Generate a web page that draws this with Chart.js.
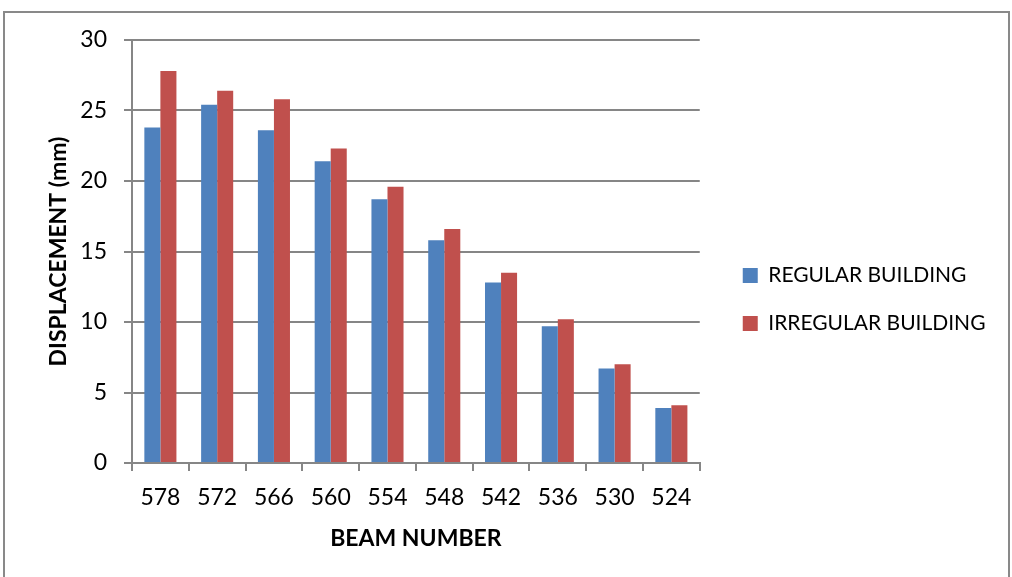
<!DOCTYPE html>
<html>
<head>
<meta charset="utf-8">
<script src="https://cdn.jsdelivr.net/npm/chart.js@4.4.0/dist/chart.umd.min.js"></script>
<style>
  body { margin: 0; background: #fff; }
  #frame {
    position: absolute; left: 3px; top: 11px; width: 1003px; height: 600px;
    border: 2px solid #898989;
  }
  #chart { position: absolute; left: 0; top: 0; }
</style>
</head>
<body>
<div id="frame"></div>
<canvas id="chart" width="1012" height="577"></canvas>
<script>
// beam numbers along the x axis
const beamNumbers = ['578', '572', '566', '560', '554', '548', '542', '536', '530', '524'];
// displacement in mm
const regularBuilding = [23.8, 25.4, 23.6, 21.4, 18.7, 15.8, 12.8, 9.7, 6.7, 3.9];
const irregularBuilding = [27.8, 26.4, 25.8, 22.3, 19.6, 16.6, 13.5, 10.2, 7.0, 4.1];
const yMin = 0, yMax = 30, yStep = 5;

const FONT = 'Lato, "Open Sans", sans-serif';
const GRID = '#868686';

// move legend to sit like the Excel one
const legendNudge = {
    id: 'legendNudge',
    afterLayout(chart) {
        const l = chart.legend;
        l.left = chart.chartArea.right + 16;
        l.right = chart.width;
        l.width = l.right - l.left;
        l.top -= 9;
        l.bottom -= 9;
    }
};

new Chart(document.getElementById('chart').getContext('2d'), {
    type: 'bar',
    data: {
        labels: beamNumbers,
        datasets: [
            {
                label: 'REGULAR BUILDING',
                data: regularBuilding,
                backgroundColor: '#4F81BD',
                categoryPercentage: 0.565,
                barPercentage: 1
            },
            {
                label: 'IRREGULAR BUILDING',
                data: irregularBuilding,
                backgroundColor: '#C0504D',
                categoryPercentage: 0.565,
                barPercentage: 1
            }
        ]
    },
    options: {
        responsive: false,
        animation: false,
        layout: { padding: { top: 40, right: 79, bottom: 0, left: 0 } },
        plugins: {
            tooltip: { enabled: false },
            legend: {
                position: 'right',
                labels: {
                    boxWidth: 15,
                    boxHeight: 15,
                    padding: 27,
                    color: '#000',
                    font: { family: FONT, size: 21 }
                }
            }
        },
        scales: {
            x: {
                grid: { drawOnChartArea: false, color: GRID, lineWidth: 2, tickLength: 8 },
                border: { color: GRID, width: 2 },
                ticks: { color: '#000', padding: 13, font: { family: FONT, size: 23 } },
                title: {
                    display: true,
                    text: 'BEAM NUMBER',
                    color: '#000',
                    font: { family: FONT, size: 23, weight: 'bold' },
                    padding: { top: 0, bottom: 25 }
                },
                afterFit(scale) { scale.height = 114; }
            },
            y: {
                min: yMin,
                max: yMax,
                ticks: { stepSize: yStep, color: '#000', padding: 17, font: { family: FONT, size: 23 } },
                grid: { color: GRID, lineWidth: 2, tickLength: 8 },
                border: { color: GRID, width: 2 },
                title: {
                    display: true,
                    text: 'DISPLACEMENT (mm)',
                    color: '#000',
                    font: { family: FONT, size: 23, weight: 'bold' },
                    padding: { top: 45, bottom: 0 }
                },
                afterFit(scale) { scale.width = 132; }
            }
        }
    },
    plugins: [legendNudge]
});
</script>
</body>
</html>
